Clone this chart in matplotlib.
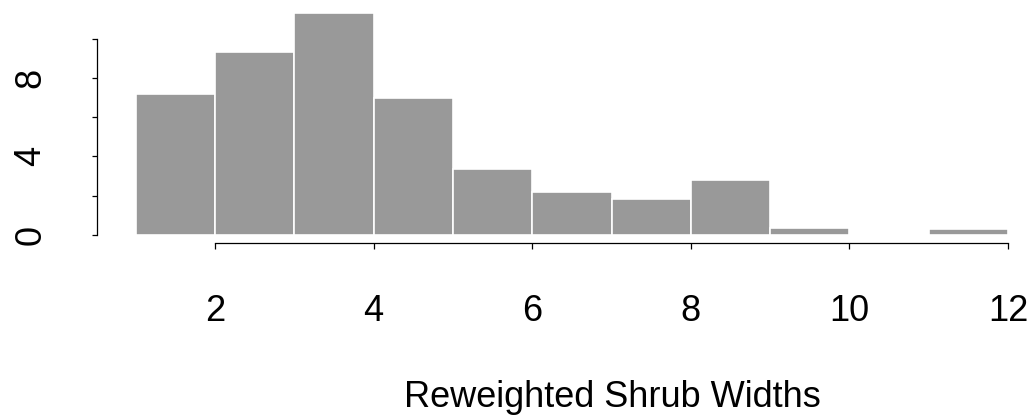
import numpy as np
import matplotlib.pyplot as plt

plt.rcParams["font.family"] = ["Liberation Sans", "DejaVu Sans"]

# histogram of reweighted widths ---------------------------------------------------

bin_edges = [1, 2, 3, 4, 5, 6, 7, 8, 9, 10, 11, 12]
counts = [7.2, 9.3, 11.3, 6.95, 3.35, 2.2, 1.85, 2.8, 0.38, 0.0, 0.3]

x_ticks = [2, 4, 6, 8, 10, 12]
y_ticks = [0, 2, 4, 6, 8, 10]
y_tick_labels = ["0", "", "4", "", "8", ""]

W, H = 1034, 417
fig = plt.figure(figsize=(W / 100, H / 100), dpi=100)

# axes box in pixels: y-axis line at x=96.7, x-axis line at y=243
left_px, right_px, bottom_px, top_px = 96.7, 1010, 243, 10
ax = fig.add_axes([left_px / W, 1 - bottom_px / H,
                   (right_px - left_px) / W, (bottom_px - top_px) / H])

px_per_x = 79.25
px_per_y = 19.65
ax.set_xlim(1 - (135.75 - left_px) / px_per_x, 12 + (right_px - 1008) / px_per_x)
ax.set_ylim(-(bottom_px - 235) / px_per_y, (235 - top_px) / px_per_y)

ax.bar(bin_edges[:-1], counts, width=np.diff(bin_edges), align="edge",
       color="#999999", edgecolor="white", linewidth=1.2, clip_on=False)

for side in ["top", "right"]:
    ax.spines[side].set_visible(False)
ax.spines["left"].set_bounds(0, 10)
ax.spines["bottom"].set_bounds(2, 12)
for side in ["left", "bottom"]:
    ax.spines[side].set_linewidth(0.9)

ax.set_xticks(x_ticks)
ax.set_xticklabels([str(t) for t in x_ticks])
ax.set_yticks(y_ticks)
ax.set_yticklabels(y_tick_labels, rotation=90, va="center")

ax.tick_params(axis="x", length=4.5, width=0.9, pad=32, labelsize=26)
ax.tick_params(axis="y", length=3.8, width=0.9, pad=31, labelsize=26)

fig.text(612 / W, (H - 407) / H, "Reweighted Shrub Widths",
         ha="center", va="baseline", fontsize=26)

fig.savefig("out.png", dpi=100)
